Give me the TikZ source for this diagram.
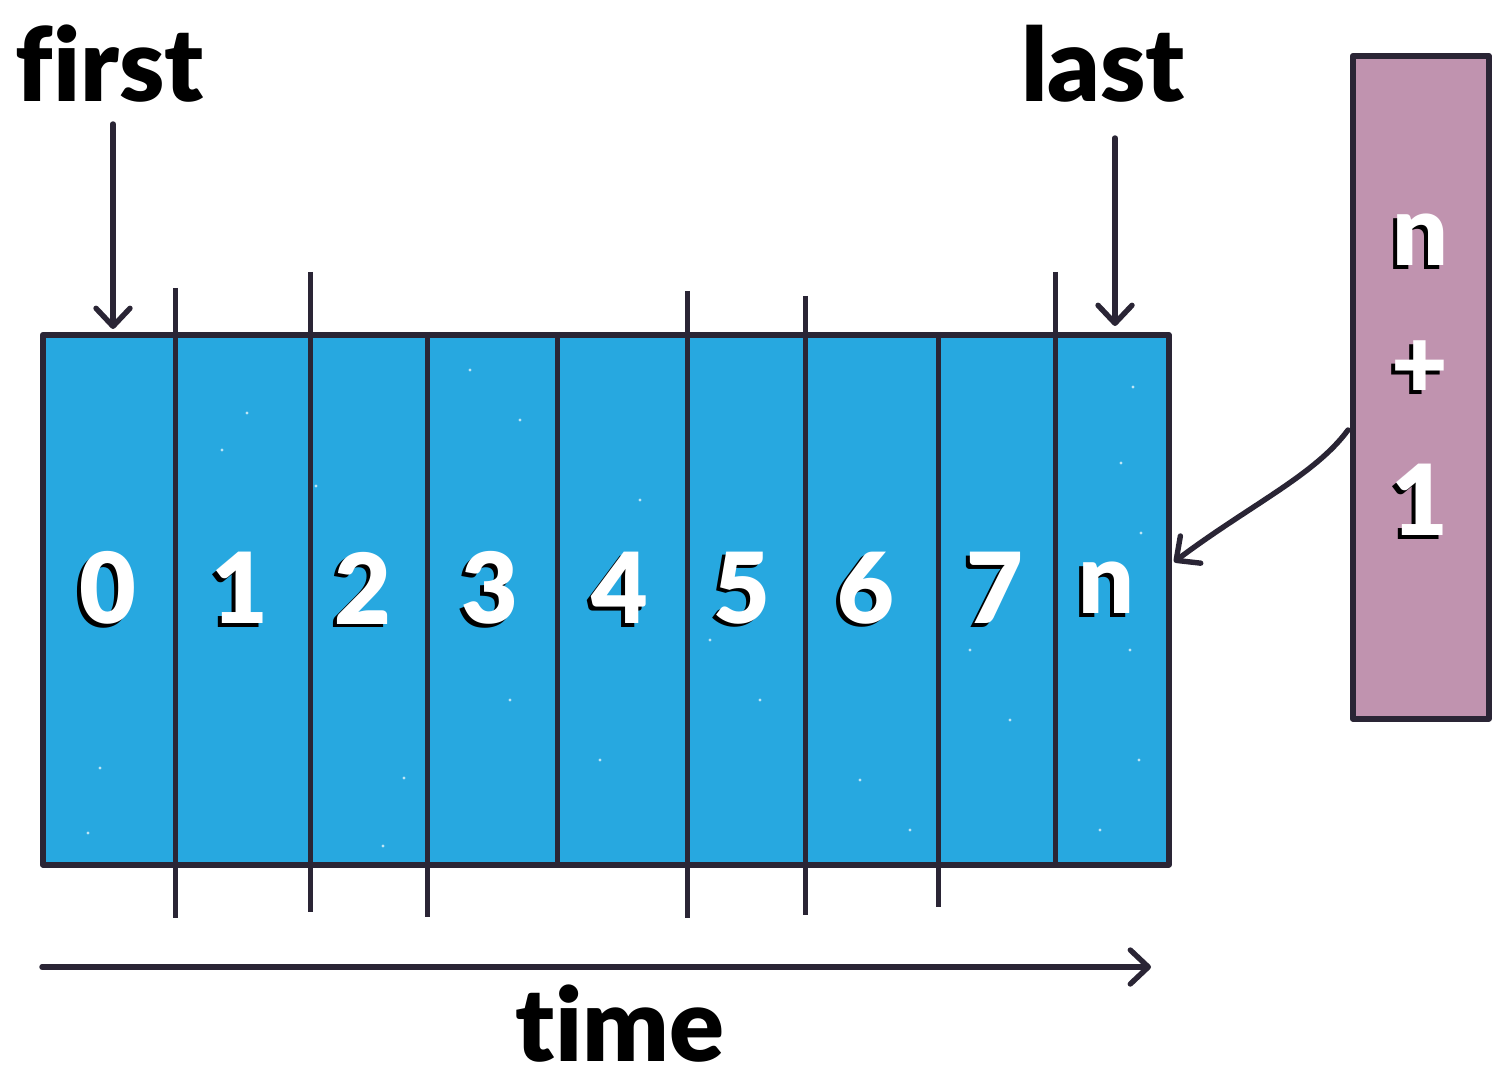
\documentclass[tikz,border=0pt]{standalone}
\usepackage{fontspec}
\setmainfont{Lato}[Ligatures=NoCommon, BoldFont={Lato Black}]
\usetikzlibrary{arrows.meta}
\definecolor{ink}{HTML}{2A2535}
\definecolor{cellblue}{HTML}{27A8E0}
\definecolor{plum}{HTML}{C093AF}
\tikzset{
  outline/.style={draw=ink, line width=2.8pt, line join=round},
  tick/.style={draw=ink, line width=2.5pt},
  pointer/.style={draw=ink, line width=2.7pt, line cap=round, -{Straight Barb[length=9pt,width=17pt,line width=2.7pt,round]}},
  label/.style={font=\fontsize{51}{51}\selectfont\bfseries, text=black, inner sep=0pt},
  digit/.style={font=\fontsize{49}{49}\selectfont\bfseries, inner sep=0pt},
  speck/.style={fill=white, opacity=0.7},
}
\newcommand{\shadowtext}[3]{%
  \node[digit, text=black] at ([xshift=-1.8pt,yshift=-1.8pt]#1) {#3};
  \node[digit, text=white] (#2) at (#1) {#3};}
\begin{document}
\begin{tikzpicture}[x=0.5pt,y=-0.5pt]
\useasboundingbox (0,0) rectangle (1504,1080);
% main bar
\node[outline, fill=cellblue, minimum width=563pt, minimum height=265pt, inner sep=0pt, anchor=north west] (bar) at (40,332) {};
% specks
\foreach \x/\y in {247/413, 222/450, 316/486, 100/768, 88/833, 404/778, 383/846, 470/370, 520/420, 510/700, 600/760, 640/500, 710/640, 760/700, 860/780, 910/830, 970/650, 1010/720, 1133/387, 1121/463, 1141/533, 1130/650, 1139/760, 1100/830, 1380/610, 1465/557, 1400/700}{
  \fill[speck] (\x,\y) circle (0.8pt);
}
% dividers
\foreach \x/\a/\b in {175/288/918, 310/272/912, 427/332/917, 557/332/862, 687/291/918, 805/296/915, 938/332/907, 1055/272/862}{
  \coordinate (t\x) at (\x,\a);
  \coordinate (b\x) at (\x,\b);
  \draw[tick] (t\x) -- (b\x);
}
% digits
\foreach \x/\d/\n in {108/0/d0, 240/1/d1, 363/2/d2, 490/3/d3, 620/4/d4, 742/5/d5, 866/6/d6, 995/7/d7, 1106/n/dn}{
  \coordinate (p\n) at (\x,588);
  \shadowtext{p\n}{\n}{\d}
}
% first / last labels
\node[label, anchor=base] (first) at (110,102) {first};
\node[label, anchor=base] (last) at (1103,102) {last};
\coordinate (firsttop) at (113,124);
\coordinate (firsttip) at (113,329);
\coordinate (lasttop) at (1115,138);
\coordinate (lasttip) at (1115,326);
\draw[pointer] (firsttop) -- (firsttip);
\draw[pointer] (lasttop) -- (lasttip);
% n+1 box
\node[outline, fill=plum, minimum width=68pt, minimum height=331.5pt, inner sep=0pt, anchor=north west] (next) at (1350,53) {};
\coordinate (pn1) at (1420,240);
\coordinate (pplus) at (1420,370);
\coordinate (pone) at (1420,500);
\shadowtext{pn1}{nn}{n}
\shadowtext{pplus}{np}{+}
\shadowtext{pone}{no}{1}
\coordinate (curvestart) at (1348,430);
\coordinate (curveend) at (1174,562);
\draw[pointer] (curvestart) .. controls (1315,475) and (1250,505) .. (curveend);
% time axis
\coordinate (tstart) at (42,967);
\coordinate (tend) at (1151,967);
\draw[pointer] (tstart) -- (tend);
\node[label, anchor=base] (time) at (620,1061) {time};
\end{tikzpicture}
\end{document}
